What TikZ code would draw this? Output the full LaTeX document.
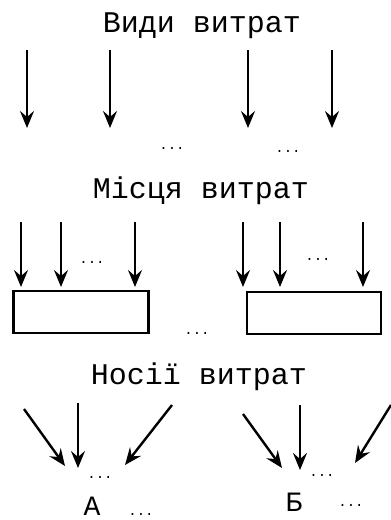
\documentclass[tikz,border=0pt]{standalone}
\usepackage{fontspec}
\setmainfont{Liberation Mono}
\usetikzlibrary{arrows.meta}
\tikzset{
    cost/.style={-{Stealth[length=17pt,width=14pt,inset=6pt]}, line width=2.4pt},
    heading/.style={font=\fontsize{30}{34}\selectfont, anchor=base, inner sep=0pt},
    dots/.style={font=\fontsize{14}{16}\selectfont, inner sep=0pt},
    letter/.style={font=\fontsize{28}{30}\selectfont, anchor=base, inner sep=0pt},
    centre/.style={draw, line width=2.2pt, inner sep=0pt, minimum height=42pt}
}
\begin{document}
\begin{tikzpicture}[x=1pt,y=-1pt]
    \useasboundingbox (0,0) rectangle (391,520);
    % Kinds of costs
    \node[heading] (Kinds) at (202,32) {Види витрат};
    \foreach \x [count=\i] in {27,110,248,332} {
        \coordinate (Kind-top-\i) at (\x,50);
        \coordinate (Kind-end-\i) at (\x,128);
        \draw[cost] (Kind-top-\i) -- (Kind-end-\i);
    }
    \node[dots] (KindDots-1) at (172,148) {...};
    \node[dots] (KindDots-2) at (288,151) {...};
    % Cost centres
    \node[heading] (Centres) at (201,198) {Місця витрат};
    \node[centre, minimum width=135pt] (Centre-1) at (81,312) {};
    \node[centre, minimum width=134pt] (Centre-2) at (314,313) {};
    \foreach \x [count=\i] in {21,61,135,243,280,363} {
        \coordinate (Centre-top-\i) at (\x,222);
        \coordinate (Centre-end-\i) at (\x,287);
        \draw[cost] (Centre-top-\i) -- (Centre-end-\i);
    }
    \node[dots] (CentreDots-1) at (92,262) {...};
    \node[dots] (CentreDots-2) at (318,259) {...};
    \node[dots] (CentreDots-3) at (197,333) {...};
    % Cost carriers
    \node[heading] (Carriers) at (199,384) {Носії витрат};
    \foreach \sx/\sy/\ex/\ey [count=\i] in {24/409/65/466, 78/403/78/468, 172/405/125/465,
                                            243/414/282/468, 300/405/300/470, 391/405/355/463} {
        \coordinate (Carrier-top-\i) at (\sx,\sy);
        \coordinate (Carrier-end-\i) at (\ex,\ey);
        \draw[cost] (Carrier-top-\i) -- (Carrier-end-\i);
    }
    \node[dots] (CarrierDots-1) at (100,477) {...};
    \node[dots] (CarrierDots-2) at (322,475) {...};
    \node[letter] (Carrier-A) at (92,515) {А};
    \node[dots] (CarrierDots-3) at (141,514) {...};
    \node[letter] (Carrier-B) at (294,511) {Б};
    \node[dots] (CarrierDots-4) at (351,505) {...};
\end{tikzpicture}
\end{document}
